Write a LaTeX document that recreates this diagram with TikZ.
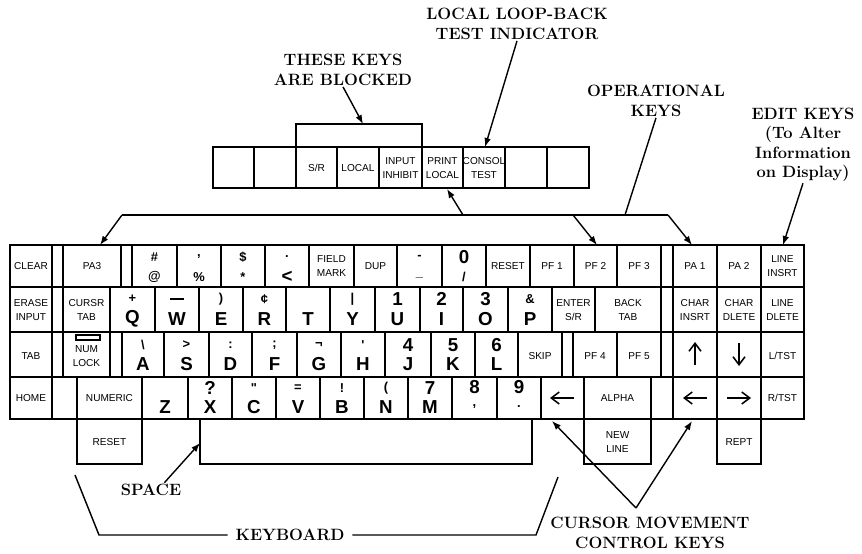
\documentclass[tikz,border=0pt]{standalone}
\usepackage{fontspec}
\newfontfamily\keyfont{Liberation Sans}
\usetikzlibrary{arrows.meta}

\newcommand{\kbig}[1]{{\fontsize{16}{16}\selectfont\bfseries #1}}

\tikzset{
  key/.style={line width=1.4pt},
  frame/.style={line width=2.2pt},
  klab/.style={font=\keyfont\fontsize{8.6}{11.5}\selectfont, align=center, inner sep=0pt},
  ksym/.style={font=\keyfont\bfseries\fontsize{11}{11}\selectfont, inner sep=0pt},
  note/.style={font=\bfseries\fontsize{14}{16.5}\selectfont, align=center, inner sep=1pt},
  pointer/.style={line width=1.2pt, -{Latex[length=2.7mm,width=2mm]}},
  bracket/.style={line width=1.2pt},
  karrow/.style={line width=1.3pt, -{Straight Barb[length=2.4mm,width=3.6mm]}}
}

\begin{document}
\begin{tikzpicture}[x=0.3mm,y=-0.3mm]
\useasboundingbox (0,0) rectangle (862,554);

% indicator keys on top
\foreach \xa/\xb/\txt in {213/254/{},254/296/{},296/337/{S/R},337/379/LOCAL,379/422/{INPUT\\INHIBIT},
    422/463/{PRINT\\LOCAL},463/505/{CONSOL\\TEST},505/547/{},547/589/{}}{
  \draw[key] (\xa,147) rectangle (\xb,188);
  \node[klab] at ({(\xa+\xb)/2},168) {\txt};
}
\draw[frame] (213,147) rectangle (589,188);
\draw[key] (296,147) -- (296,124) -- (422,124) -- (422,147);

% row 1
\foreach \xa/\xb/\txt in {10/52/CLEAR,52/63/{},63/121/PA3,121/132/{},309/354/{FIELD\\MARK},354/397/DUP,
    486/530/RESET,530/574/PF 1,574/617/PF 2,617/661/PF 3,661/673/{},673/717/PA 1,717/761/PA 2,761/804/{LINE\\INSRT}}{
  \draw[key] (\xa,245) rectangle (\xb,287);
  \node[klab] at ({(\xa+\xb)/2},266) {\txt};
}
\foreach \xa/\xb/\up/\lo in {132/177/\#/@,177/221/{,}/\%,221/265/\$/*,265/309/./\kbig{<},
    397/442/-/\_,442/486/\kbig{0}/{/}}{
  \draw[key] (\xa,245) rectangle (\xb,287);
  \node[ksym] at ({(\xa+\xb)/2},257) {\up};
  \node[ksym] at ({(\xa+\xb)/2},277) {\lo};
}

% row 2
\foreach \xa/\xb/\txt in {10/52/{ERASE\\INPUT},52/63/{},63/110/{CURSR\\TAB},552/595/{ENTER\\S/R},
    595/661/{BACK\\TAB},661/673/{},673/717/{CHAR\\INSRT},717/761/{CHAR\\DLETE},761/804/{LINE\\DLETE}}{
  \draw[key] (\xa,287) rectangle (\xb,332);
  \node[klab] at ({(\xa+\xb)/2},310) {\txt};
}
\foreach \xa/\xb/\up/\lo in {110/155/+/\kbig{Q},155/199/{\rule{4mm}{1.2pt}}/\kbig{W},199/243/)/\kbig{E},
    243/286/¢/\kbig{R},286/330/{}/\kbig{T},330/375/|/\kbig{Y},375/420/\kbig{1}/\kbig{U},
    420/463/\kbig{2}/\kbig{I},463/508/\kbig{3}/\kbig{O},508/552/\&/\kbig{P}}{
  \draw[key] (\xa,287) rectangle (\xb,332);
  \node[ksym] at ({(\xa+\xb)/2},299) {\up};
  \node[ksym] at ({(\xa+\xb)/2},319) {\lo};
}

% row 3
\foreach \xa/\xb/\txt in {10/52/TAB,52/63/{},63/110/{NUM\\LOCK},110/122/{},518/562/SKIP,562/573/{},
    573/617/PF 4,617/661/PF 5,661/673/{},673/717/{},717/761/{},761/804/{L/TST}}{
  \draw[key] (\xa,332) rectangle (\xb,377);
  \node[klab] at ({(\xa+\xb)/2},356) {\txt};
}
\draw[line width=0.9pt] (76,335) rectangle (100,340);
\foreach \xa/\xb/\up/\lo in {122/164/\textbackslash/\kbig{A},164/209/>/\kbig{S},209/252/:/\kbig{D},
    252/297/;/\kbig{F},297/341/¬/\kbig{G},341/385/'/\kbig{H},385/431/\kbig{4}/\kbig{J},
    431/475/\kbig{5}/\kbig{K},475/518/\kbig{6}/\kbig{L}}{
  \draw[key] (\xa,332) rectangle (\xb,377);
  \node[ksym] at ({(\xa+\xb)/2},345) {\up};
  \node[ksym] at ({(\xa+\xb)/2},364) {\lo};
}

% row 4
\foreach \xa/\xb/\txt in {10/52/HOME,52/77/{},77/142/NUMERIC,541/584/{},584/651/ALPHA,651/673/{},
    673/717/{},717/761/{},761/804/{R/TST}}{
  \draw[key] (\xa,377) rectangle (\xb,419);
  \node[klab] at ({(\xa+\xb)/2},398) {\txt};
}
\foreach \xa/\xb/\up/\lo in {142/188/{}/\kbig{Z},188/232/\kbig{?}/\kbig{X},232/276/"/\kbig{C},
    276/320/=/\kbig{V},320/364/!/\kbig{B},364/408/(/\kbig{N},408/452/\kbig{7}/\kbig{M}}{
  \draw[key] (\xa,377) rectangle (\xb,419);
  \node[ksym] at ({(\xa+\xb)/2},388) {\up};
  \node[ksym] at ({(\xa+\xb)/2},407) {\lo};
}
\foreach \xa/\xb/\up/\lo in {452/497/\kbig{8}/{,},497/541/\kbig{9}/.}{
  \draw[key] (\xa,377) rectangle (\xb,419);
  \node[ksym] at ({(\xa+\xb)/2},387) {\up};
  \node[ksym] at ({(\xa+\xb)/2},407) {\lo};
}

% cursor arrows on the keys
\draw[karrow] (695,365) -- (695,342);
\draw[karrow] (739,343) -- (739,366);
\draw[karrow] (574,398) -- (550,398);
\draw[karrow] (707,398) -- (683,398);
\draw[karrow] (727,398) -- (751,398);

\draw[frame] (10,245) rectangle (804,419);

% lower keys
\foreach \xa/\xb/\txt in {77/142/RESET,200/532/{},584/651/{NEW\\LINE},717/761/REPT}{
  \draw[key] (\xa,419) rectangle (\xb,464);
  \node[klab] at ({(\xa+\xb)/2},442) {\txt};
}

% labels
\node[note] (looplab) at (517,24) {LOCAL LOOP-BACK\\TEST INDICATOR};
\node[note] (blocklab) at (343,70) {THESE KEYS\\ARE BLOCKED};
\node[note] (oplab) at (656,101) {OPERATIONAL\\KEYS};
\node[note] (editlab) at (803,145) {EDIT KEYS\\(To Alter\\Information\\on Display)};
\node[note] (spacelab) at (151,490) {SPACE};
\node[note] (kblab) at (290,535) {KEYBOARD};
\node[note] (cursorlab) at (650,533) {CURSOR MOVEMENT\\CONTROL KEYS};

% targets
\coordinate (blocktop) at (363,124);
\coordinate (consoltop) at (485,147);
\coordinate (printbot) at (447,189);
\coordinate (pa3top) at (100,245);
\coordinate (pf2top) at (597,245);
\coordinate (pa1top) at (692,245);
\coordinate (linetop) at (783,245);
\coordinate (spaceleft) at (200,443);
\coordinate (lefttop) at (552,421);
\coordinate (edleft) at (692,421);

% bracket over operational keys
\coordinate (brL) at (122,215);
\coordinate (brR) at (668,215);
\coordinate (brP) at (463,215);
\coordinate (brF) at (573,215);
\coordinate (opfoot) at (625,215);
\draw[bracket] (brL) -- (brR);
\draw[bracket] (oplab.south) -- (opfoot);
\draw[pointer] (brL) -- (pa3top);
\draw[pointer] (brR) -- (pa1top);
\draw[pointer] (brF) -- (pf2top);
\draw[pointer] (brP) -- (printbot);

\draw[pointer] (blocklab.south) -- (blocktop);
\draw[pointer] (looplab.south) -- (consoltop);
\draw[pointer] (editlab.south) -- (linetop);
\draw[pointer] ([xshift=4mm]spacelab.north) -- (spaceleft);

% keyboard bracket
\coordinate (kbA) at (75,475);
\coordinate (kbB) at (99,535);
\coordinate (kbC) at (536,535);
\coordinate (kbD) at (558,477);
\draw[bracket] (kbA) -- (kbB) -- ([xshift=-2mm]kblab.west);
\draw[bracket] ([xshift=2mm]kblab.east) -- (kbC) -- (kbD);

% cursor keys
\coordinate (apex) at (636,508);
\draw[pointer] (apex) -- (lefttop);
\draw[pointer] (apex) -- (edleft);

\end{tikzpicture}
\end{document}
